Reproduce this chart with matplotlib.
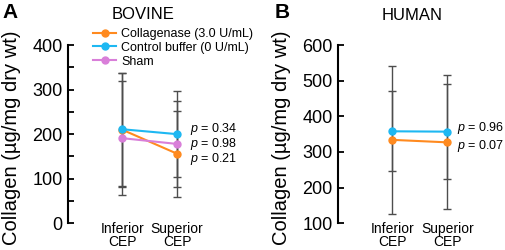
import matplotlib
matplotlib.use("Agg")
from matplotlib import pyplot as plt
from matplotlib.ticker import MultipleLocator

plt.rcParams['font.family'] = ['Liberation Sans', 'DejaVu Sans']
plt.rcParams['mathtext.fontset'] = 'custom'
plt.rcParams['mathtext.it'] = 'Liberation Sans:italic'

categories = ['Inferior\nCEP', 'Superior\nCEP']

# bovine: mean and SD per CEP region
bov_coll = [210, 156]
bov_coll_sd = [128, 97]
bov_ctrl = [211, 200]
bov_ctrl_sd = [127, 97]
bov_sham = [191, 178]
bov_sham_sd = [128, 97]
bov_p = ['0.34', '0.98', '0.21']

# human
hum_coll = [334, 327]
hum_coll_sd = [207, 188]
hum_ctrl = [358, 357]
hum_ctrl_sd = [112, 133]
hum_p = ['0.96', '0.07']

c_coll = '#FF8A1F'
c_ctrl = '#1EB8F2'
c_sham = '#D97FD9'
c_err = '#4d4d4d'

fig = plt.figure(figsize=(5.05, 2.5), dpi=100)
ax_a = fig.add_axes([0.1352, 0.1068, 0.281, 0.7132])
ax_b = fig.add_axes([0.670, 0.1068, 0.281, 0.7132])
x = [0, 1]


def draw_series(ax, vals, sds, color, label):
    ax.errorbar(x, vals, yerr=sds, fmt='none', ecolor=c_err, elinewidth=1.0,
                capsize=3, capthick=1.0, zorder=1)
    ax.plot(x, vals, color=color, lw=1.5, marker='o', ms=5, label=label, zorder=3)


def style_axis(ax):
    ax.set_xlim(-0.98, 1.6)
    for s in ['top', 'right', 'bottom']:
        ax.spines[s].set_visible(False)
    ax.spines['left'].set_linewidth(1.5)
    ax.tick_params(axis='y', which='both', direction='in', length=4, width=1.3,
                   labelsize=13, pad=4)
    ax.set_xticks(x)
    ax.set_xticklabels(categories, fontsize=10, linespacing=0.95)
    ax.tick_params(axis='x', length=0, pad=-1)
    ax.set_ylabel('Collagen (µg/mg dry wt)', fontsize=14.5)
    ax.yaxis.set_label_coords(-0.335, 0.48)


def p_block(pvals):
    return '\n'.join(r'$p$ = ' + p for p in pvals)


# panel A
draw_series(ax_a, bov_coll, bov_coll_sd, c_coll, 'Collagenase (3.0 U/mL)')
draw_series(ax_a, bov_ctrl, bov_ctrl_sd, c_ctrl, 'Control buffer (0 U/mL)')
draw_series(ax_a, bov_sham, bov_sham_sd, c_sham, 'Sham')
style_axis(ax_a)
ax_a.set_ylim(0, 400)
ax_a.yaxis.set_major_locator(MultipleLocator(100))
ax_a.yaxis.set_minor_locator(MultipleLocator(50))
ax_a.text(1.23, 178, p_block(bov_p), fontsize=9, va='center', linespacing=0.9)
ax_a.legend(loc='upper left', bbox_to_anchor=(0.175, 1.096), frameon=False,
            fontsize=9, handlelength=1.85, handletextpad=0.4, labelspacing=0.15,
            borderaxespad=0, borderpad=0)

# panel B
draw_series(ax_b, hum_coll, hum_coll_sd, c_coll, 'Collagenase (3.0 U/mL)')
draw_series(ax_b, hum_ctrl, hum_ctrl_sd, c_ctrl, 'Control buffer (0 U/mL)')
style_axis(ax_b)
ax_b.set_ylim(100, 600)
ax_b.yaxis.set_major_locator(MultipleLocator(100))
ax_b.yaxis.set_minor_locator(MultipleLocator(100))
ax_b.text(1.18, 342, p_block(hum_p), fontsize=9, va='center', linespacing=1.12)

fig.text(0.283, 1 - 19 / 250, 'BOVINE', fontsize=12, ha='center', va='baseline')
fig.text(0.816, 1 - 20 / 250, 'HUMAN', fontsize=12, ha='center', va='baseline')
fig.text(0.004, 0.99, 'A', fontsize=15, fontweight='bold', va='top')
fig.text(0.543, 0.99, 'B', fontsize=15, fontweight='bold', va='top')

fig.savefig('out.png', dpi=100)
